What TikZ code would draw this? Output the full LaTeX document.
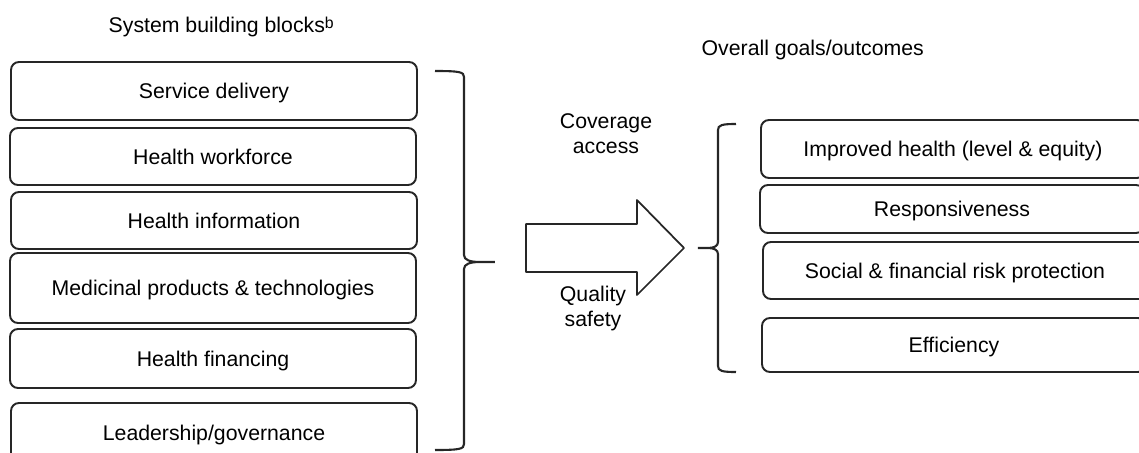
\documentclass[tikz,border=0pt]{standalone}
\usepackage{fontspec}
\setmainfont{Liberation Sans}
\usepackage{tkz-euclide}
\tikzset{every node/.append style = {font = \fontsize{6.05}{7.1}\selectfont}}
\tikzset{block/.style = {draw = black!85, line width = 0.55pt, rounded corners = 0.8mm, minimum width = 4.06cm, text height = 4.4pt, text depth = 0pt, inner sep = 0pt}}
\tikzset{goal/.style = {block, minimum width = 3.84cm}}
\tikzset{brace/.style = {draw = black!85, line width = 0.6pt}}

\begin{document}
\begin{tikzpicture}
\useasboundingbox (0,0) rectangle (11.39,-4.53);
\clip (0,0) rectangle (11.39,-4.53);
\node[anchor = base west, inner sep = 0pt] (sbb) at (1.08,-0.32) {System building blocks\raisebox{0.9pt}{\fontsize{4.5}{5}\selectfont b}};
\node[anchor = base west, inner sep = 0pt] (ogo) at (7.01,-0.55) {Overall goals/outcomes};
\node[block, minimum height = 0.58cm] (sd) at (2.14,-0.91) {Service delivery};
\node[block, minimum height = 0.57cm] (hw) at (2.13,-1.565) {Health workforce};
\node[block, minimum height = 0.57cm] (hi) at (2.14,-2.205) {Health information};
\node[block, minimum height = 0.70cm] (mp) at (2.13,-2.88) {Medicinal products \& technologies};
\node[block, minimum height = 0.59cm] (hf) at (2.13,-3.585) {Health financing};
\node[block, minimum height = 0.59cm] (lg) at (2.14,-4.325) {Leadership/governance};
\draw[brace] (4.35,-0.71) .. controls (4.60,-0.71) and (4.64,-0.72) .. (4.64,-0.77) -- (4.64,-2.55) .. controls (4.64,-2.60) and (4.70,-2.62) .. (4.80,-2.62) -- (4.95,-2.62) (4.80,-2.62) .. controls (4.70,-2.62) and (4.64,-2.64) .. (4.64,-2.69) -- (4.64,-4.44) .. controls (4.64,-4.49) and (4.60,-4.50) .. (4.35,-4.50);
\tkzDefPoints{5.26/-2.24/A, 6.37/-2.24/B, 6.37/-2.00/C, 6.84/-2.48/D, 6.37/-2.95/E, 6.37/-2.72/F, 5.26/-2.72/G}
\tkzDrawPolygon[draw = black!85, line width = 0.5pt](A,B,C,D,E,F,G)
\node[align = center] (cov) at (6.06,-1.34) {Coverage\\access};
\node[align = center] (qs) at (5.93,-3.085) {Quality\\safety};
\draw[brace] (7.36,-1.24) .. controls (7.22,-1.24) and (7.18,-1.25) .. (7.18,-1.30) -- (7.18,-2.42) .. controls (7.18,-2.46) and (7.14,-2.48) .. (7.08,-2.48) -- (6.98,-2.48) (7.08,-2.48) .. controls (7.14,-2.48) and (7.18,-2.50) .. (7.18,-2.54) -- (7.18,-3.66) .. controls (7.18,-3.71) and (7.22,-3.72) .. (7.36,-3.72);
\node[goal, minimum height = 0.58cm] (ih) at (9.53,-1.49) {Improved health (level \& equity)};
\node[goal, minimum height = 0.48cm] (rs) at (9.52,-2.09) {Responsiveness};
\node[goal, minimum height = 0.57cm] (sf) at (9.55,-2.705) {Social \& financial risk protection};
\node[goal, minimum height = 0.54cm] (ef) at (9.54,-3.45) {Efficiency};
\end{tikzpicture}
\end{document}
